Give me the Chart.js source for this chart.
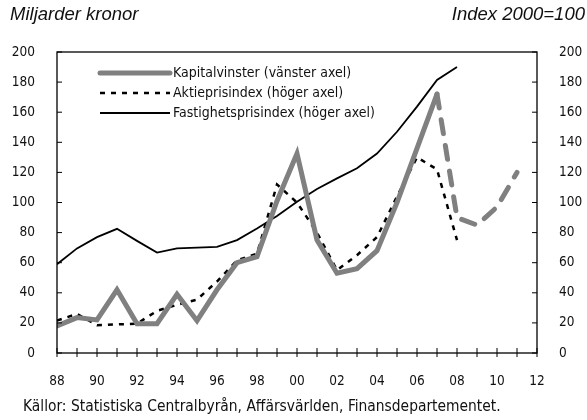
<!DOCTYPE html>
<html>
<head>
<meta charset="utf-8">
<script src="https://cdn.jsdelivr.net/npm/chart.js@4.4.1/dist/chart.umd.min.js"></script>
<style>
    html, body { margin: 0; padding: 0; background: #fff; }
    #wrap { position: relative; width: 587px; height: 420px; }
    #chart { position: absolute; left: 0; top: 0; }
    .note { position: absolute; top: 3px; font-family: "Liberation Sans", Arial, sans-serif; font-style: italic; font-size: 18.5px; color: #111; }
    #src { position: absolute; left: 23px; top: 397px; font-family: "Liberation Sans Narrow", "DejaVu Sans Condensed", sans-serif; font-size: 15.4px; color: #111; }
</style>
</head>
<body>
<div id="wrap">
    <canvas id="chart" width="587" height="420"></canvas>
    <div class="note" style="left:10px">Miljarder kronor</div>
    <div class="note" style="right:2px">Index 2000=100</div>
    <div id="src">Källor: Statistiska Centralbyrån, Affärsvärlden, Finansdepartementet.</div>
</div>
<script>
const years = [1988, 1989, 1990, 1991, 1992, 1993, 1994, 1995, 1996, 1997, 1998, 1999,
               2000, 2001, 2002, 2003, 2004, 2005, 2006, 2007, 2008, 2009, 2010, 2011];
// miljarder kronor, vänster axel; från 2007 prognos (streckad)
const capitalGains = [18, 23.5, 22, 42, 19.5, 19.5, 39, 21.5, 42, 60, 64, 101,
                      132.5, 75, 53, 56, 68, 100, 136, 172, 90, 85, 97, 120];
const forecastFrom = 2007;
// index 2000=100, höger axel
const stockIndex = [21.5, 26, 18.5, 19, 19.5, 28, 32, 35.5, 47.5, 61.5, 66, 112,
                    100, 80, 55, 65, 77, 104, 130, 122, 75];
const propertyIndex = [59, 69.5, 77, 82.5, 74.5, 66.7, 69.5, 70, 70.5, 75, 82.7, 91,
                       100.5, 109, 116, 122.7, 132.5, 147, 163.7, 181.4, 190];
const legendLabels = ['Kapitalvinster (vänster axel)', 'Aktieprisindex (höger axel)', 'Fastighetsprisindex (höger axel)'];

const narrow = "'Liberation Sans Narrow', 'DejaVu Sans Condensed', sans-serif";
const pts = vals => vals.map((v, i) => ({x: years[i], y: v}));

const frame = {
    id: 'frame',
    afterDatasetsDraw(chart) {
        const {ctx, chartArea: a, scales} = chart;
        ctx.save();
        ctx.strokeStyle = '#000';
        ctx.lineWidth = 1.3;
        ctx.strokeRect(a.left, a.top, a.right - a.left, a.bottom - a.top);
        ctx.beginPath();
        scales.x.ticks.forEach(t => {
            const px = scales.x.getPixelForValue(t.value);
            ctx.moveTo(px, a.bottom - 5);
            ctx.lineTo(px, a.bottom + 4);
        });
        scales.y.ticks.forEach(t => {
            const py = scales.y.getPixelForValue(t.value);
            ctx.moveTo(a.left, py); ctx.lineTo(a.left + 5, py);
            ctx.moveTo(a.right, py); ctx.lineTo(a.right - 5, py);
        });
        ctx.lineWidth = 1;
        ctx.stroke();

        // legend inside the plot
        const x0 = a.left + 43, x1 = a.left + 113;
        ctx.font = '14px ' + narrow;
        ctx.fillStyle = '#111';
        ctx.textBaseline = 'middle';
        chart.data.datasets.forEach((ds, i) => {
            const y = a.top + 21 + i * 20;
            ctx.beginPath();
            ctx.strokeStyle = ds.borderColor;
            ctx.lineWidth = ds.borderWidth;
            ctx.setLineDash(ds.borderDash || []);
            ctx.lineCap = ds.borderCapStyle || 'butt';
            ctx.moveTo(x0, y);
            ctx.lineTo(x1, y);
            ctx.stroke();
            ctx.fillText(legendLabels[i], x1 + 3, y);
        });
        ctx.restore();
    }
};

new Chart(document.getElementById('chart'), {
    type: 'line',
    data: {
        datasets: [{
            data: pts(capitalGains),
            yAxisID: 'y',
            borderColor: '#808080',
            borderWidth: 5,
            borderCapStyle: 'round',
            segment: {borderDash: c => c.p0.parsed.x >= forecastFrom ? [14, 12] : undefined}
        }, {
            data: pts(stockIndex),
            yAxisID: 'y1',
            borderColor: '#000',
            borderWidth: 2.5,
            borderDash: [5, 6]
        }, {
            data: pts(propertyIndex),
            yAxisID: 'y1',
            borderColor: '#000',
            borderWidth: 1.8
        }]
    },
    options: {
        responsive: false,
        animation: false,
        elements: {point: {radius: 0}, line: {tension: 0}},
        layout: {padding: {top: 52, left: 0, right: 0, bottom: 0}},
        plugins: {legend: {display: false}, tooltip: {enabled: false}},
        scales: {
            x: {
                type: 'linear', min: 1988, max: 2012,
                grid: {display: false}, border: {display: false},
                ticks: {
                    stepSize: 1, autoSkip: false, maxRotation: 0, padding: 12,
                    color: '#111', font: {family: narrow, size: 13.5},
                    callback: v => v % 2 === 0 ? String(v).slice(2) : ''
                },
                afterFit: s => { s.height = 67; }
            },
            y: {
                position: 'left', min: 0, max: 200,
                grid: {display: false}, border: {display: false},
                ticks: {stepSize: 20, padding: 14, color: '#111', font: {family: narrow, size: 13.5}},
                afterFit: s => { s.width = 57; }
            },
            y1: {
                position: 'right', min: 0, max: 200,
                grid: {display: false}, border: {display: false},
                ticks: {stepSize: 20, padding: 14, color: '#111', font: {family: narrow, size: 13.5}},
                afterFit: s => { s.width = 50; }
            }
        }
    },
    plugins: [frame]
});
</script>
</body>
</html>
